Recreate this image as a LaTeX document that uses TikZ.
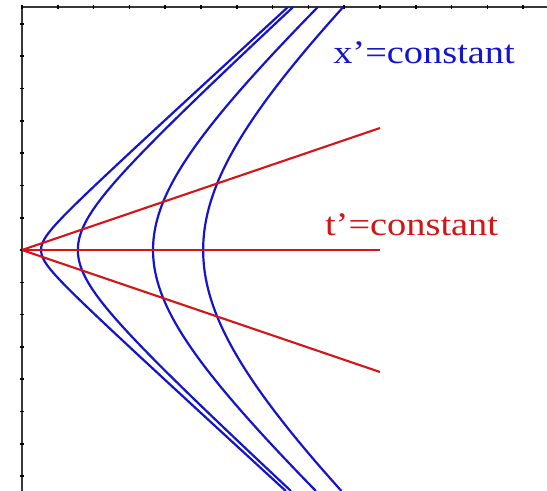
\documentclass[tikz,border=0pt]{standalone}
\usepackage{fontspec}
\setmainfont{Liberation Serif}
\definecolor{hypblue}{RGB}{20,20,205}
\definecolor{linered}{RGB}{215,20,20}
\definecolor{axisgray}{RGB}{55,55,55}
\usetikzlibrary{positioning}

\begin{document}
\begin{tikzpicture}[x=35.8pt,y=32.3pt,
  hyp/.style={hypblue,line width=2.2pt},
  ray/.style={linered,line width=2.1pt},
  lbl/.style={font=\fontsize{32.8}{36}\selectfont,inner sep=0pt,anchor=base west}]
  \useasboundingbox (-0.6145,-7.461) rectangle (14.665,7.740);
  \coordinate (O) at (0,0);
  % axes with ticks
  \draw[axisgray,line width=1.4pt] (14.665,7.523) -- (0,7.523) -- (0,-7.461);
  \foreach \i in {0,...,14} {
    \draw[black,line width=1.6pt] (\i,7.47) -- (\i,7.58);
  }
  \foreach \j in {-7,...,7} {
    \draw[black,line width=1.6pt] (-0.05,\j) -- (0.05,\j);
  }
  % x'=constant
  \foreach \a in {0.53,1.56,3.66,5.06} {
    \draw[hyp] plot[domain=-7.461:7.523,samples=120,smooth,variable=\t]
      ({sqrt(\a*\a+(0.985*\t)^2)},\t);
  }
  % t'=constant
  \coordinate (r1) at (10,3.777);
  \coordinate (r2) at (10,0);
  \coordinate (r3) at (10,-3.777);
  \foreach \r in {r1,r2,r3} {
    \draw[ray] (O) -- (\r);
  }
  \node[lbl,hypblue] (xlbl) at (8.69,5.76) {\scalebox{1.17}[1]{x’=constant}};
  \node[lbl,linered] (tlbl) at (8.46,0.464) {\scalebox{1.17}[1]{t’=constant}};
\end{tikzpicture}
\end{document}
